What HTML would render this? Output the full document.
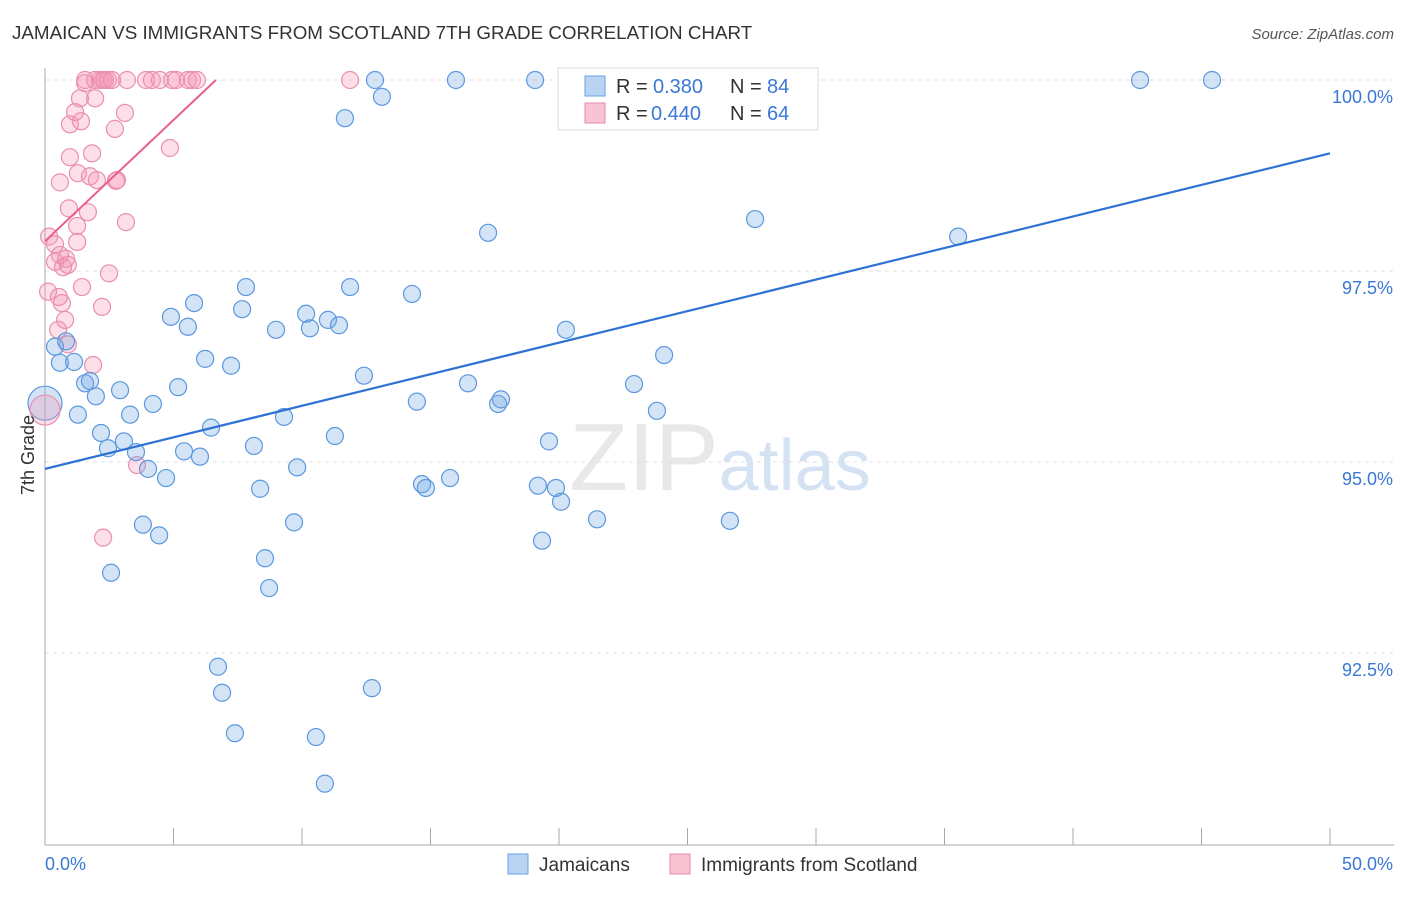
<!DOCTYPE html>
<html><head><meta charset="utf-8"><style>
body{margin:0;background:#fff;font-family:"Liberation Sans",sans-serif;}
svg text{font-family:"Liberation Sans",sans-serif;}
</style></head><body>
<svg id="chart" width="1406" height="892" xmlns="http://www.w3.org/2000/svg">
<text x="12" y="39" font-size="18.8" fill="#333">JAMAICAN VS IMMIGRANTS FROM SCOTLAND 7TH GRADE CORRELATION CHART</text>
<text x="1394" y="39" font-size="15" fill="#555" text-anchor="end" font-style="italic">Source: ZipAtlas.com</text>
<text x="720" y="490" font-size="96" fill="#e8e8e8" text-anchor="middle" font-family="Liberation Serif">ZIP<tspan fill="#d4e2f4" font-family="Liberation Sans" font-size="72">atlas</tspan></text>
<g id="grid"></g><g id="axes"></g><g id="pts"></g><g id="trends"></g>
<text transform="translate(34,455) rotate(-90)" font-size="18" fill="#333" text-anchor="middle">7th Grade</text>
<g>
<rect x="558" y="68" width="260" height="62" fill="#fff" stroke="#ddd"/>
<rect x="585" y="76" width="20" height="20" fill="#b9d3f3" stroke="#6aa0e0"/>
<text x="616" y="93" font-size="20" fill="#333">R =</text>
<text x="653" y="93" font-size="20" fill="#3a78d6">0.380</text>
<text x="730" y="93" font-size="20" fill="#333">N =</text>
<text x="767" y="93" font-size="20" fill="#3a78d6">84</text>
<rect x="585" y="103" width="20" height="20" fill="#f8c3d3" stroke="#e88aa8"/>
<text x="616" y="120" font-size="20" fill="#333">R =</text>
<text x="651" y="120" font-size="20" fill="#3a78d6">0.440</text>
<text x="730" y="120" font-size="20" fill="#333">N =</text>
<text x="767" y="120" font-size="20" fill="#3a78d6">64</text>
</g>
<g>
<rect x="508" y="854" width="20" height="20" fill="#b9d3f3" stroke="#6aa0e0"/>
<text x="539" y="871" font-size="19" fill="#333">Jamaicans</text>
<rect x="670" y="854" width="20" height="20" fill="#f8c3d3" stroke="#e88aa8"/>
<text x="701" y="871" font-size="19" fill="#333">Immigrants from Scotland</text>
</g>
</svg>
<script>
const yTicks=[100,97.5,95,92.5];
const yTickLabels=["100.0%","97.5%","95.0%","92.5%"];
const xTickLabels=["0.0%","50.0%"];
const blueX=[12.84,15.99,19.07,26.54,42.61,45.41,13.11,11.67,17.24,27.63,35.53,7.82,11.87,14.28,5.80,7.67,4.90,5.56,8.99,10.16,11.01,10.31,11.44,20.27,24.09,0.39,0.82,6.23,7.24,0.58,1.13,12.41,16.46,22.92,1.56,1.75,2.92,5.18,1.98,4.20,14.47,17.63,17.74,23.81,1.28,3.31,9.30,6.46,2.18,3.07,11.28,19.61,2.45,3.54,5.41,6.03,8.13,9.81,4.01,4.71,15.76,14.67,14.82,19.18,19.88,20.08,8.37,3.81,4.44,9.69,21.48,26.65,19.34,8.56,2.57,8.72,6.73,6.89,12.72,7.39,10.54,10.89];
const blueY=[100,100,100,100,100,100,99.78,99.50,98.00,98.18,97.95,97.29,97.29,97.20,97.08,97.00,96.90,96.77,96.73,96.94,96.86,96.75,96.79,96.73,96.40,96.51,96.58,96.35,96.26,96.30,96.31,96.13,96.03,96.02,96.03,96.06,95.94,95.98,95.86,95.76,95.79,95.76,95.82,95.67,95.62,95.62,95.59,95.45,95.38,95.27,95.34,95.27,95.18,95.13,95.14,95.07,95.21,94.93,94.91,94.79,94.79,94.71,94.66,94.69,94.66,94.48,94.65,94.18,94.04,94.21,94.25,94.23,93.97,93.74,93.55,93.35,92.32,91.98,92.04,91.45,91.40,90.79];
const pinkX=[1.56,1.95,2.14,2.26,2.33,2.45,2.61,3.19,3.93,4.16,4.47,4.94,5.10,5.56,5.72,5.91,11.87,1.56,1.36,1.95,1.17,0.97,1.40,3.11,2.72,0.97,1.83,0.58,1.28,1.75,2.02,2.76,2.80,4.86,0.93,1.67,1.25,1.25,0.16,0.39,0.58,0.39,0.82,0.70,0.89,3.15,2.49,1.44,0.12,0.54,0.66,2.22,0.78,0.51,0.89,1.87,3.58,2.26];
const pinkY=[100,100,100,100,100,100,100,100,100,100,100,100,100,100,100,100,100,99.96,99.76,99.76,99.58,99.42,99.46,99.57,99.36,98.99,99.04,98.66,98.78,98.74,98.69,98.68,98.69,99.11,98.32,98.27,98.09,97.88,97.95,97.85,97.71,97.62,97.66,97.55,97.58,98.14,97.47,97.29,97.23,97.16,97.08,97.03,96.86,96.73,96.54,96.27,94.96,94.01];
const bigX=[0,0];const bigY=[95.77,95.68];
const blueTrend=[94.91,99.04];
const pinkTrend=[97.89,6.65];
const sx=v=>45+v*25.7, sy=v=>80+(100-v)*76.4;
const NS="http://www.w3.org/2000/svg";
function mk(t,a,p){const e=document.createElementNS(NS,t);for(const k in a)e.setAttribute(k,a[k]);p.appendChild(e);return e;}
const grid=document.getElementById('grid'),axes=document.getElementById('axes'),pts=document.getElementById('pts'),tr=document.getElementById('trends');
yTicks.forEach((t,i)=>{
 const l=mk('line',{x1:45,x2:1394,y1:sy(t),y2:sy(t),stroke:'#e2e2e2','stroke-dasharray':'4,4'},grid);
 
 
 const tx=mk('text',{x:1393,y:sy(t)+23,'font-size':18,fill:'#3a78d6','text-anchor':'end'},axes);
 tx.textContent=yTickLabels[i];
 
 
});
const ax=mk('line',{x1:45,x2:45,y1:68,y2:845,stroke:'#aaa'},axes);


const bx=mk('line',{x1:45,x2:1394,y1:845,y2:845,stroke:'#aaa'},axes);


for(let i=0;i<=10;i++){const x=sx(i*5);const t=mk('line',{x1:x,x2:x,y1:828,y2:845,stroke:'#aaa'},axes);
 
 }
[[0,45,'start'],[50,1393,'end']].forEach((d,i)=>{const t=mk('text',{x:d[1],y:870,'font-size':18,fill:'#3a78d6','text-anchor':d[2]},axes);t.textContent=xTickLabels[i];
 
 });
function dots(X,Y,f,s,name,r){X.forEach((x,i)=>{const c=mk('circle',{cx:sx(x),cy:sy(Y[i]),r:r,fill:f,stroke:s,'stroke-width':1.2},pts);
 
 });}
dots(pinkX,pinkY,'rgba(244,150,180,0.3)','#ea8fae','scotland-point',8.5);
dots(blueX,blueY,'rgba(110,165,230,0.3)','#5b98de','jamaican-point',8.5);
dots([bigX[0]],[bigY[0]],'rgba(110,165,230,0.3)','#5b98de','jamaican-point-large',17);
dots([bigX[1]],[bigY[1]],'rgba(244,150,180,0.3)','#ea8fae','scotland-point-large',15);
const bl=mk('line',{x1:sx(0),y1:sy(blueTrend[0]),x2:sx(50),y2:sy(blueTrend[1]),stroke:'#2f72d4','stroke-width':2.2},tr);


const pl=mk('line',{x1:sx(0),y1:sy(pinkTrend[0]),x2:sx(pinkTrend[1]),y2:sy(100),stroke:'#e8608a','stroke-width':2},tr);


</script>
</body></html>
